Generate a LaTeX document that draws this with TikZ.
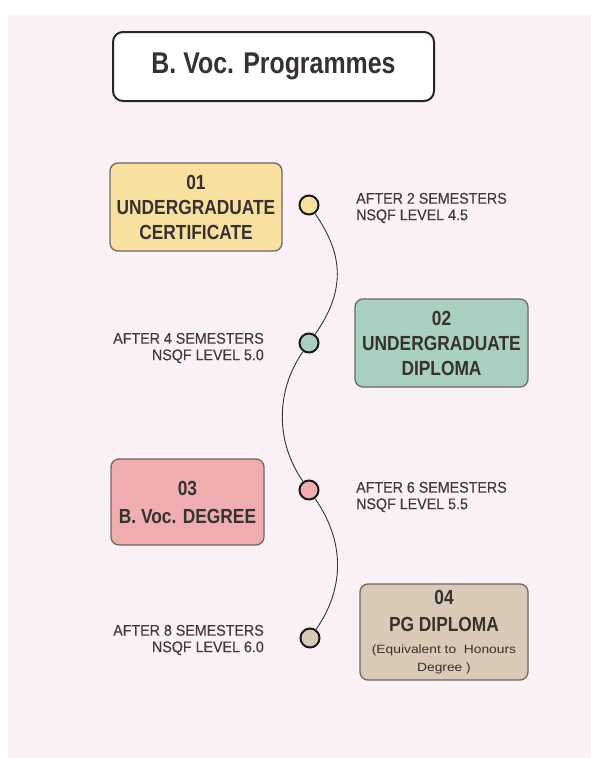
\documentclass[tikz,border=0pt]{standalone}
\usepackage{fontspec}
\setmainfont{Liberation Sans}
\newfontfamily\titlefont{Liberation Sans}[FakeStretch=0.83]
\newfontfamily\boxfont{Liberation Sans}[FakeStretch=0.85]
\newfontfamily\sidefont{Liberation Sans}[FakeStretch=0.92,FakeBold=0.5]
\newfontfamily\smallfont{Liberation Sans}[FakeStretch=1.15]
\definecolor{bgpink}{RGB}{252,240,247}
\definecolor{ycol}{RGB}{247,224,160}
\definecolor{gcol}{RGB}{168,207,192}
\definecolor{pcol}{RGB}{239,173,175}
\definecolor{tcol}{RGB}{216,202,183}
\definecolor{boxline}{RGB}{110,104,96}
\definecolor{ink}{RGB}{55,50,48}
\definecolor{sideink}{RGB}{62,62,62}
\begin{document}
\begin{tikzpicture}[x=1pt,y=1pt,
  stage/.style={draw=boxline, line width=1.3pt, rounded corners=8pt, align=center, inner sep=0pt, text=ink, font=\boxfont\bfseries\fontsize{20.4}{25}\selectfont},
  dot/.style={circle, draw=black!90, line width=2pt, minimum size=19pt, inner sep=0pt},
  side/.style={inner sep=0pt, text=sideink, font=\sidefont\fontsize{15.5}{16.5}\selectfont},
  link/.style={draw=black!80, line width=0.9pt}]
\useasboundingbox (0,0) rectangle (591,-758);
\fill[white] (0,0) rectangle (591,-758);
\fill[bgpink] (8,-15) rectangle (591,-758);
\node[draw=black!85, line width=2pt, rounded corners=10pt, fill=white, minimum width=321pt, minimum height=69pt, inner sep=0pt, text=ink, font=\titlefont\bfseries\fontsize{30}{36}\selectfont] (title) at (273.5,-66.5) {B. Voc. Programmes};

\node[stage, fill=ycol, minimum width=172pt, minimum height=88pt] (s1) at (196,-207) {01\\UNDERGRADUATE\\CERTIFICATE};
\node[stage, fill=gcol, minimum width=173pt, minimum height=88pt] (s2) at (441.5,-343) {02\\UNDERGRADUATE\\DIPLOMA};
\node[stage, fill=pcol, minimum width=153pt, minimum height=86pt] (s3) at (187.5,-502) {03\\[3pt]B. Voc. DEGREE};
\node[stage, fill=tcol, minimum width=168pt, minimum height=96pt] (s4) at (444,-632) {04\\[2pt]PG DIPLOMA\\[-3pt]{\smallfont\mdseries\fontsize{12}{16}\selectfont (Equivalent to\ \ Honours}\\[-7pt]{\smallfont\mdseries\fontsize{12}{16}\selectfont Degree )}};

\node[dot, fill=ycol] (c1) at (309,-205) {};
\node[dot, fill=gcol] (c2) at (309,-343) {};
\node[dot, fill=pcol] (c3) at (309,-490) {};
\node[dot, fill=tcol] (c4) at (310,-638) {};

\node[side, anchor=west, align=left] (t1) at (356,-208) {AFTER 2 SEMESTERS\\NSQF LEVEL 4.5};
\node[side, anchor=east, align=right] (t2) at (264,-348) {AFTER 4 SEMESTERS\\NSQF LEVEL 5.0};
\node[side, anchor=west, align=left] (t3) at (356,-497) {AFTER 6 SEMESTERS\\NSQF LEVEL 5.5};
\node[side, anchor=east, align=right] (t4) at (264,-640) {AFTER 8 SEMESTERS\\NSQF LEVEL 6.0};

\draw[link] (c1) to[out=-55,in=55,looseness=1.1] (c2);
\draw[link] (c2) to[out=-125,in=125,looseness=0.95] (c3);
\draw[link] (c3) to[out=-55,in=55,looseness=1.0] (c4);
\end{tikzpicture}
\end{document}
